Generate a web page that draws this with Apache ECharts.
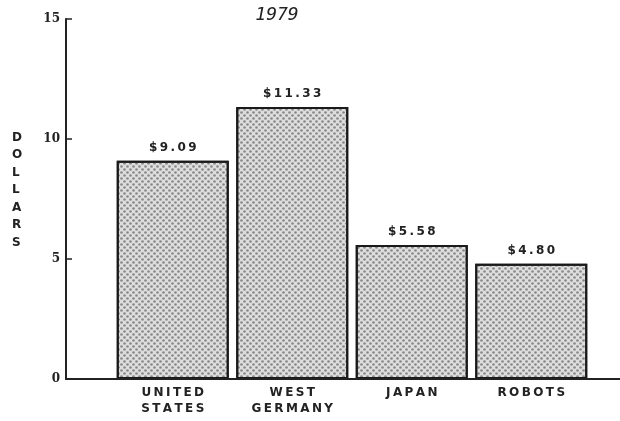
<!DOCTYPE html>
<html>
<head>
<meta charset="utf-8">
<script src="https://cdn.jsdelivr.net/npm/echarts@6/dist/echarts.min.js"></script>
<style>
  html, body { margin: 0; padding: 0; background: #fff; }
  #chart { width: 620px; height: 421px; }
</style>
</head>
<body>
<div id="chart"></div>
<script>
// hourly labour cost, 1979
const categories = ['UNITED\nSTATES', 'WEST\nGERMANY', 'JAPAN', 'ROBOTS']
const values = [9.09, 11.33, 5.58, 4.80]
const yTicks = [0, 5, 10, 15]

// old typewriter look: spread letters a little
const spread = s => s.split('\n').map(l => l.split('').join('\u2009')).join('\n')

const chart = echarts.init(document.getElementById('chart'), null, { renderer: 'canvas' })

const option = {
  animation: false,
  backgroundColor: '#fff',
  title: {
    text: '1979',
    left: 272,
    top: 1,
    textAlign: 'center',
    textStyle: { fontFamily: 'DejaVu Sans Mono', fontStyle: 'italic', fontWeight: 'normal', fontSize: 18, color: '#222' }
  },
  graphic: [{
    type: 'text',
    left: 12,
    top: 129,
    style: {
      text: 'D\nO\nL\nL\nA\nR\nS',
      font: 'bold 12px "DejaVu Sans"',
      fill: '#222',
      lineHeight: 17.5,
      align: 'center'
    }
  }],
  grid: [
    // axis frame
    { left: 66, right: 0, top: 19, bottom: 42, outerBoundsMode: 'none' },
    // bars
    { left: 113, right: 29, top: 19, bottom: 42, outerBoundsMode: 'none' }
  ],
  xAxis: [
    {
      gridIndex: 0, type: 'value', min: 0, max: 1, z: 5,
      axisLine: { show: true, lineStyle: { color: '#222', width: 2 } },
      axisTick: { show: false }, axisLabel: { show: false }, splitLine: { show: false }
    },
    {
      gridIndex: 1, type: 'category', data: categories,
      axisLine: { show: false }, axisTick: { show: false },
      axisLabel: {
        margin: 6, lineHeight: 16,
        formatter: v => spread(v),
        fontFamily: 'DejaVu Sans', fontSize: 12, fontWeight: 'bold', color: '#222'
      }
    }
  ],
  yAxis: [
    {
      gridIndex: 0, type: 'value', min: 0, max: 15, interval: 5,
      axisLine: { show: true, lineStyle: { color: '#222', width: 2 } },
      axisTick: { show: true, inside: true, length: 6, lineStyle: { color: '#222', width: 1.5 } },
      axisLabel: {
        margin: 6, fontFamily: 'DejaVu Serif', fontWeight: 'bold', fontSize: 12, color: '#222',
        formatter: v => yTicks.includes(v) ? String(v) : ''
      },
      splitLine: { show: false }
    },
    {
      gridIndex: 1, type: 'value', min: 0, max: 15, interval: 5,
      show: false
    }
  ],
  series: [{
    type: 'bar',
    xAxisIndex: 1,
    yAxisIndex: 1,
    data: values,
    barWidth: 112,
    itemStyle: {
      color: '#dedede',
      borderColor: '#1a1a1a',
      borderWidth: 2,
      decal: {
        symbol: 'circle',
        symbolSize: 0.9,
        color: 'rgba(70,70,70,0.55)',
        dashArrayX: [[3, 3], [0, 3, 3, 0]],
        dashArrayY: [3, 0],
        rotation: 0
      }
    },
    label: {
      show: true,
      position: 'top',
      distance: 7,
      formatter: p => spread('$' + p.value.toFixed(2)),
      fontFamily: 'DejaVu Sans',
      fontWeight: 'bold',
      fontSize: 12,
      color: '#222'
    }
  }]
}

chart.setOption(option)
</script>
</body>
</html>
